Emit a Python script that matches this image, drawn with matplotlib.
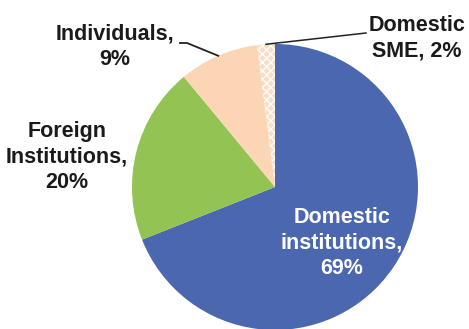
import numpy as np
import matplotlib.pyplot as plt

plt.rcParams['font.family'] = ['Liberation Sans', 'DejaVu Sans']
plt.rcParams['hatch.linewidth'] = 1.0

labels = ['Domestic\ninstitutions,\n69%', 'Foreign\nInstitutions,\n20%',
          'Individuals,\n9%', 'Domestic\nSME, 2%']
shares = [69, 20, 9, 2]
colors = ['#4a67b0', '#92c353', '#fcd5b5', '#fbdcc4']

W, H = 469, 329
fig = plt.figure(figsize=(W / 100, H / 100), dpi=100)
ax = fig.add_axes([0, 0, 1, 1])

cx, cy, r = 275, H - 187, 143
wedges, _ = ax.pie(shares, colors=colors, startangle=90, counterclock=False,
                   center=(cx, cy), radius=r, frame=True,
                   wedgeprops=dict(linewidth=0))
ax.set_xlim(0, W)
ax.set_ylim(0, H)
ax.set_aspect('equal')
ax.axis('off')

# hatched small slice
wedges[3].set_hatch('xxxx')
wedges[3].set_edgecolor('white')

def edge_point(w):
    ang = np.deg2rad((w.theta1 + w.theta2) / 2)
    return cx + r * np.cos(ang), cy + r * np.sin(ang)

fs = 15.5
ls = 1.3
# Domestic institutions, inside
ax.text(342, H - 243, labels[0], color='white', fontsize=fs, fontweight='bold',
        ha='center', va='center', linespacing=ls)
# Foreign institutions
ax.text(67, H - 157, labels[1], color='#1a1a1a', fontsize=fs, fontweight='bold',
        ha='center', va='center', linespacing=ls)
# Individuals with leader line
px, py = edge_point(wedges[2])
ax.plot([180, 187, px], [H - 43, H - 43, py], color='#222222', lw=1.3)
ax.text(115, H - 47, labels[2], color='#1a1a1a', fontsize=fs, fontweight='bold',
        ha='center', va='center', linespacing=ls)
# Domestic SME with leader line
px, py = edge_point(wedges[3])
ax.plot([px, 366], [py, H - 33], color='#222222', lw=1.1)
ax.text(417, H - 38, labels[3], color='#1a1a1a', fontsize=fs, fontweight='bold',
        ha='center', va='center', linespacing=ls)

fig.savefig('out.png', dpi=100)
